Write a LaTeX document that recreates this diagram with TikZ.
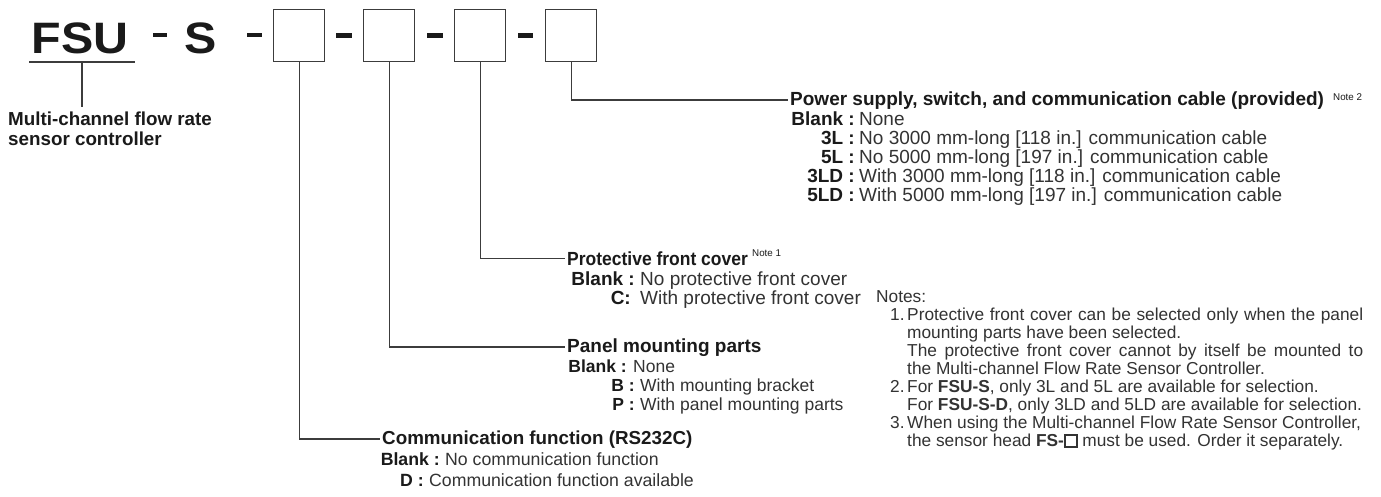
\documentclass[tikz,border=0pt]{standalone}
\usepackage{fontspec}
\setmainfont{Liberation Sans}
\newfontfamily\bigfont[FakeStretch=1.1]{Liberation Sans}
\newfontfamily\condfont[FakeStretch=0.92]{Liberation Sans}
\definecolor{lc}{HTML}{3C3C3C}
\definecolor{tc}{HTML}{333333}
\definecolor{bc}{HTML}{1A1A1A}
\newcommand\fsA{\fontsize{19}{21}\selectfont}
\newcommand\fsB{\fontsize{19}{21}\selectfont}
\newcommand\fsBh{\condfont\fontsize{19}{21}\selectfont}
\newcommand\fsP{\fontsize{17.5}{19}\selectfont}
\newcommand\fsC{\fontsize{18.8}{20}\selectfont}
\newcommand\fsCr{\fontsize{17.7}{19}\selectfont}
\newcommand\fsN{\fontsize{17.3}{18}\selectfont}
\newcommand\fsS{\fontsize{9.8}{10}\selectfont}
\newcommand\fsL{\fontsize{44}{46}\selectfont}
\newcommand\smallsq{{\setlength\fboxsep{0pt}\setlength\fboxrule{1.8pt}\fbox{\rule{0pt}{10pt}\hspace{10pt}}}}
\begin{document}
\begin{tikzpicture}[x=1pt,y=-1pt,
  ln/.style={draw=lc,line width=1.3pt},
  boxn/.style={draw=lc,line width=1.3pt,minimum width=51pt,minimum height=52pt,inner sep=0pt,anchor=north west},
  t/.style={inner sep=0pt,anchor=base west,text=tc,font=#1},
  te/.style={inner sep=0pt,anchor=base east,text=bc,font=#1\bfseries},
  hd/.style={inner xsep=2.5pt,inner ysep=0pt,anchor=base west,text=bc,font=#1\bfseries},
  big/.style={inner sep=0pt,anchor=base west,text=bc,font=\bigfont\fsL\bfseries},
  septhick/.style={draw=bc,line width=5pt},
  septhin/.style={draw=bc,line width=3.5pt}]
\fill[white] (0,0) rectangle (1381,496);
\useasboundingbox (0,0) rectangle (1381,496);

% ---- code line ----
\node[big] (fsu) at (31.5,53) {FSU};
\node[big] (s) at (184,53) {S};
\draw[septhin] (153,35) -- (167,35);
\draw[septhin] (247,35) -- (262,35);
\node[boxn] (b1) at (273,9) {};
\node[boxn] (b2) at (363,9) {};
\node[boxn] (b3) at (454,9) {};
\node[boxn] (b4) at (545,9) {};
\draw[septhick] (336,35) -- (352,35);
\draw[septhick] (427,35) -- (443,35);
\draw[septhick] (518,35) -- (533,35);

% ---- FSU label ----
\coordinate (ulA) at (29,62);
\coordinate (ulB) at (135,62);
\coordinate (ulM) at (82,62);
\draw[ln] (ulA) -- (ulB);
\node[t=\fsC,text=bc,font=\fsC\bfseries] (lab1) at (8,125) {Multi-channel flow rate};
\node[t=\fsC,text=bc,font=\fsC\bfseries] (lab2) at (8,145) {sensor controller};
\draw[ln] (ulM) -- ([yshift=4pt]lab1.north -| ulM);

% ---- Power supply block ----
\node[hd=\fsA] (h4) at (787.5,105) {Power supply, switch, and communication cable (provided)};
\node[t=\fsS,text=bc] (n2) at (1333,100.5) {Note 2};
\draw[ln] (b4.south) |- (h4.west);
\node[te=\fsA] (p0l) at (855,125) {Blank :};
\node[t=\fsA] (p0v) at (859,125) {None};
\node[te=\fsA] (p1l) at (855,144) {3L :};
\node[t=\fsA] (p1v) at (859,144) {No 3000 mm-long [118 in.] communication cable};
\node[te=\fsA] (p2l) at (855,163) {5L :};
\node[t=\fsA] (p2v) at (859,163) {No 5000 mm-long [197 in.] communication cable};
\node[te=\fsA] (p3l) at (855,182) {3LD :};
\node[t=\fsA] (p3v) at (859,182) {With 3000 mm-long [118 in.] communication cable};
\node[te=\fsA] (p4l) at (855,201) {5LD :};
\node[t=\fsA] (p4v) at (859,201) {With 5000 mm-long [197 in.] communication cable};

% ---- Protective front cover block ----
\node[hd=\fsBh] (h3) at (564.5,265) {Protective front cover};
\node[t=\fsS,text=bc] (n1) at (752,256) {Note 1};
\draw[ln] (b3.south) |- (h3.west);
\node[te=\fsB] (c0l) at (635,285) {Blank :};
\node[t=\fsB] (c0v) at (640,285) {No protective front cover};
\node[te=\fsB] (c1l) at (631,304) {C:};
\node[t=\fsB] (c1v) at (640,304) {With protective front cover};

% ---- Panel mounting parts block ----
\node[hd=\fsA] (h2) at (564.5,352) {Panel mounting parts};
\draw[ln] (b2.south) |- (h2.west);
\node[te=\fsP] (m0l) at (627,372) {Blank :};
\node[t=\fsP] (m0v) at (633,372) {None};
\node[te=\fsP] (m1l) at (635,391) {B :};
\node[t=\fsP] (m1v) at (640,391) {With mounting bracket};
\node[te=\fsP] (m2l) at (635,410) {P :};
\node[t=\fsP] (m2v) at (640,410) {With panel mounting parts};

% ---- Communication function block ----
\node[hd=\fsC] (h1) at (379.5,444) {Communication function (RS232C)};
\draw[ln] (b1.south) |- (h1.west);
\node[te=\fsCr] (f0l) at (440,465) {Blank :};
\node[t=\fsCr] (f0v) at (445,465) {No communication function};
\node[te=\fsCr] (f1l) at (424,486) {D :};
\node[t=\fsCr] (f1v) at (429,486) {Communication function available};

% ---- Notes ----
\node[t=\fsN] (nt) at (876,302) {Notes:};
\node[t=\fsN] (nn1) at (890,320) {1.};
\node[t=\fsN] (nl1) at (907,320) {\makebox[456pt][s]{Protective front cover can be selected only when the panel}};
\node[t=\fsN] (nl2) at (907,338) {mounting parts have been selected.};
\node[t=\fsN] (nl3) at (907,356) {\makebox[456pt][s]{The protective front cover cannot by itself be mounted to}};
\node[t=\fsN] (nl4) at (907,374) {the Multi-channel Flow Rate Sensor Controller.};
\node[t=\fsN] (nn2) at (890,392) {2.};
\node[t=\fsN] (nl5) at (907,392) {For \textbf{FSU-S}, only 3L and 5L are available for selection.};
\node[t=\fsN] (nl6) at (907,410) {For \textbf{FSU-S-D}, only 3LD and 5LD are available for selection.};
\node[t=\fsN] (nn3) at (890,428) {3.};
\node[t=\fsN] (nl7) at (907,428) {When using the Multi-channel Flow Rate Sensor Controller,};
\node[t=\fsN] (nl8) at (907,446) {the sensor head \textbf{FS-}\smallsq\ must be used. Order it separately.};
\end{tikzpicture}
\end{document}
